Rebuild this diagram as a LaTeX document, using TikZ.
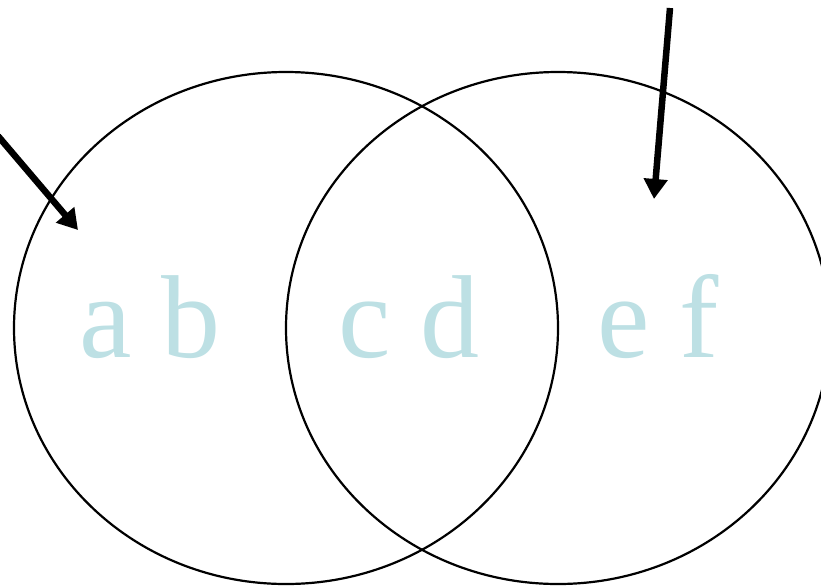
\documentclass[tikz,border=0pt]{standalone}
\usepackage{fontspec}
\newfontfamily\letterfont{Liberation Serif}
\usetikzlibrary{shapes.geometric, arrows.meta}
\definecolor{paleblue}{RGB}{189,224,228}

\begin{document}
\begin{tikzpicture}[x=1pt, y=1pt,
    % Define the style for the two sets
    setring/.style={draw, ellipse, line width=2.2pt, inner sep=0pt,
        minimum width=544pt, minimum height=512pt},
    % Define the style for the letters
    letters/.style={text=paleblue, anchor=base, inner sep=0pt,
        font=\letterfont\fontsize{118}{118}\selectfont},
    % Define the style for the thick pointers
    pointer/.style={line width=6.5pt,
        -{Triangle[width=23pt, length=20pt]}}
]
\useasboundingbox (0,0) rectangle (821,-587);

% Draw the two sets
\node[setring] (setA) at (286,-328) {};
\node[setring] (setB) at (558,-328) {};

% Add the letters
\node[letters] (ab) at (150,-357) {a b};
\node[letters] (cd) at (409,-357) {c d};
\node[letters] (ef) at (658,-357) {e f};

% Define the ends of the pointers
\coordinate (P1) at (-2,-136);
\coordinate (T1) at (78,-230);
\coordinate (P2) at (670,-8);
\coordinate (T2) at (654,-199);

% Draw the pointers
\draw[pointer] (P1) -- (T1);
\draw[pointer] (P2) -- (T2);

\end{tikzpicture}
\end{document}
